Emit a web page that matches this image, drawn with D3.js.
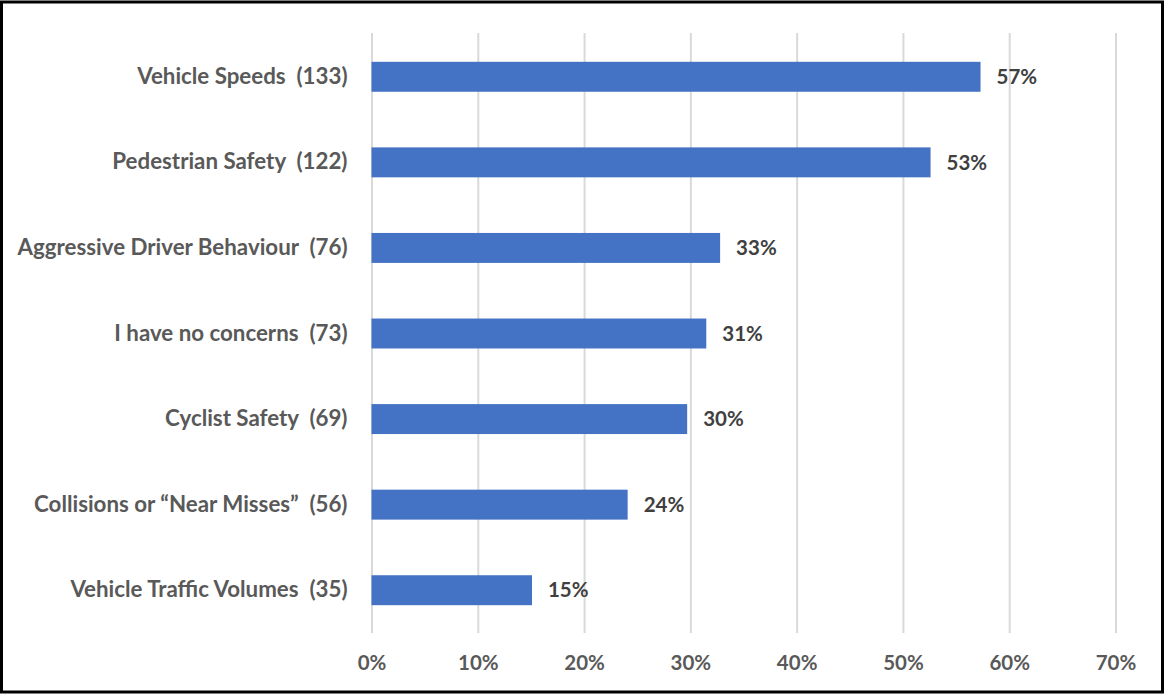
<!DOCTYPE html>
<html><head><meta charset="utf-8">
<script src="https://cdn.jsdelivr.net/npm/d3@7"></script>
<style>html,body{margin:0;padding:0;background:#fff;}svg{display:block;} text{white-space:pre;}</style>
</head><body>
<svg id="chart" width="1165" height="694"></svg>
<script>
const categories = ["Vehicle Speeds  (133)", "Pedestrian Safety  (122)", "Aggressive Driver Behaviour  (76)", "I have no concerns  (73)", "Cyclist Safety  (69)", "Collisions or \u201cNear Misses\u201d  (56)", "Vehicle Traffic Volumes  (35)"];
const values = [57.3, 52.6, 32.8, 31.5, 29.7, 24.1, 15.1];
const valueLabels = ["57%", "53%", "33%", "31%", "30%", "24%", "15%"];
const tickValues = [0, 10, 20, 30, 40, 50, 60, 70];

const svg = d3.select("#chart");
const W = 1165, H = 694;
const font = "Lato, 'Open Sans', sans-serif";
svg.append("rect").attr("x", 1.5).attr("y", 2).attr("width", W - 4).attr("height", H - 4)
  .attr("fill", "#fff").attr("stroke", "#000").attr("stroke-width", 3);

const x = d3.scaleLinear().domain([0, 70]).range([371.5, 1115.5]);
const y = d3.scaleBand().domain(categories).range([34, 633]).paddingInner(0.65).paddingOuter(0.325);

const gx = svg.append("g").attr("transform", "translate(0,633)")
  .call(d3.axisBottom(x).tickValues(tickValues).tickSize(599).tickFormat(d => d + "%"));
gx.select(".domain").remove();
gx.selectAll(".tick line").attr("y1", 0).attr("y2", -600).attr("stroke", "#d9d9d9").attr("stroke-width", 2);
gx.selectAll(".tick text").attr("y", 30).attr("dy", "0.35em").attr("font-family", font).attr("font-weight", "bold")
  .attr("font-size", 20.5).attr("fill", "#595959");

const gy = svg.append("g").attr("transform", "translate(371.5,0)")
  .call(d3.axisLeft(y).tickSize(0).tickPadding(24));
gy.select(".domain").remove();
gy.selectAll(".tick text").attr("font-family", font).attr("font-weight", "bold").attr("font-size", 22.3).attr("fill", "#595959")
  .attr("xml:space", "preserve");

svg.append("g").selectAll("rect").data(values).join("rect")
  .attr("x", x(0)).attr("y", (d, i) => y(categories[i]))
  .attr("width", d => x(d) - x(0)).attr("height", y.bandwidth())
  .attr("fill", "#4472c4");

svg.append("g").selectAll("text").data(values).join("text")
  .attr("x", d => x(d) + 16).attr("y", (d, i) => y(categories[i]) + y.bandwidth() / 2)
  .attr("dy", "0.35em").attr("font-family", font).attr("font-weight", "bold").attr("font-size", 20.5)
  .attr("fill", "#404040").text((d, i) => valueLabels[i]);
</script>
</body></html>
